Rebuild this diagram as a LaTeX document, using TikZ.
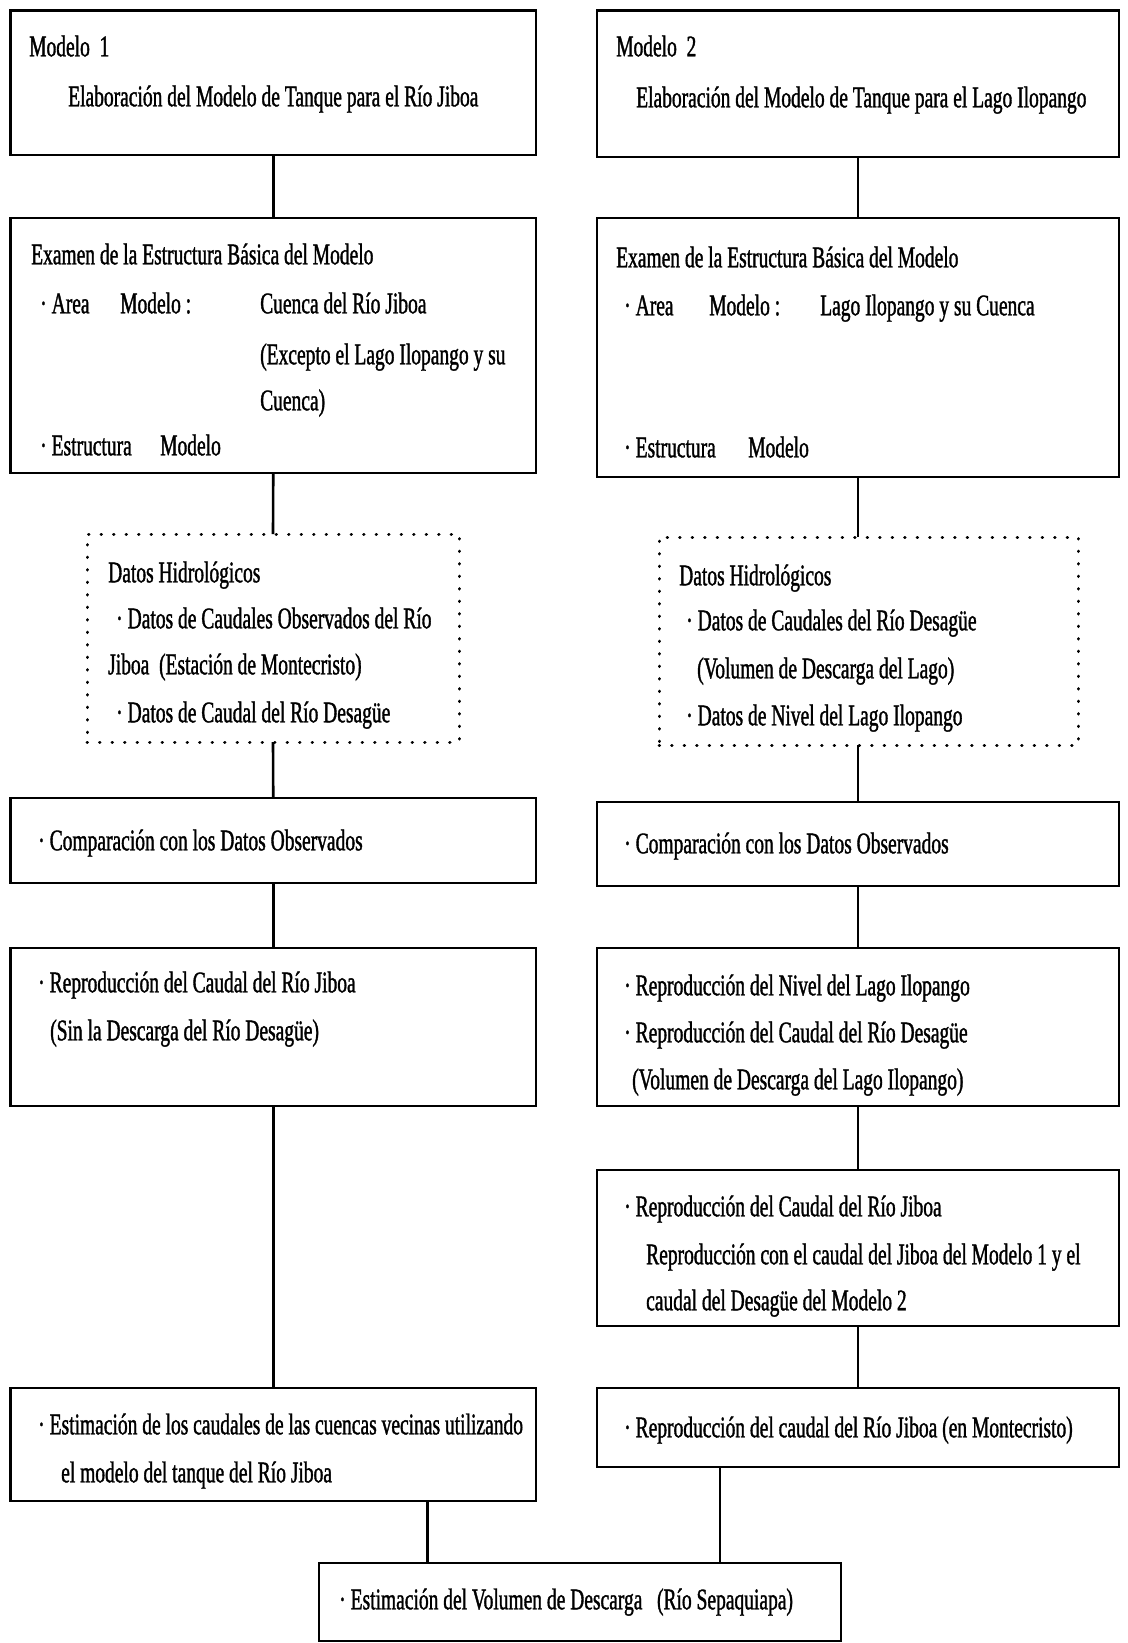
\documentclass[tikz,border=0pt]{standalone}
\usepackage{fontspec}
\setmainfont{Liberation Serif}[FakeStretch=0.65,FakeBold=1.2]
\newcommand{\bul}{·\hspace{5pt}}
\begin{document}
\begin{tikzpicture}[x=1pt,y=-1pt,
  box/.style={draw, line width=2.2pt, anchor=north west, inner sep=0pt, outer sep=0pt},
  dotbox/.style={draw, line width=3pt, dash pattern=on 0.5pt off 12pt, line cap=round, anchor=north west, inner sep=0pt, outer sep=0pt},
  link/.style={line width=2.6pt},
  txt/.style={anchor=mid west, inner sep=0pt, font=\fontsize{30}{36}\selectfont, yshift=-8pt}]
\useasboundingbox (0,0) rectangle (1127,1643);
% left column boxes
\node[box, minimum width=525.5pt, minimum height=144.5pt] (L1) at (10.5,10.5) {};
\node[box, minimum width=525.5pt, minimum height=255pt] (L2) at (10.5,218) {};
\node[dotbox, minimum width=372pt, minimum height=208pt] (L3) at (87,534) {};
\node[box, minimum width=525.5pt, minimum height=85pt] (L4) at (10.5,798) {};
\node[box, minimum width=525.5pt, minimum height=158pt] (L5) at (10.5,948) {};
\node[box, minimum width=525.5pt, minimum height=113pt] (L6) at (10.5,1388) {};
% right column boxes
\node[box, minimum width=522pt, minimum height=146.5pt] (R1) at (597,10.5) {};
\node[box, minimum width=522pt, minimum height=259pt] (R2) at (597,218) {};
\node[dotbox, minimum width=419pt, minimum height=208pt] (R3) at (659,537) {};
\node[box, minimum width=522pt, minimum height=84pt] (R4) at (597,802) {};
\node[box, minimum width=522pt, minimum height=158pt] (R5) at (597,948) {};
\node[box, minimum width=522pt, minimum height=156pt] (R6) at (597,1170) {};
\node[box, minimum width=522pt, minimum height=79pt] (R7) at (597,1388) {};
% bottom box
\node[box, minimum width=522pt, minimum height=78pt] (B) at (319,1563) {};

% connectors left
\draw[link] (L1.south) -- (L2.north);
\draw[link] (L2.south) -- (L3.north);
\draw[link] (L3.south) -- (L4.north);
\draw[link] (L4.south) -- (L5.north);
\draw[link] (L5.south) -- (L6.north);
\draw[link] ([xshift=154pt]L6.south) -- ([xshift=154pt]L6.south |- B.north);
% connectors right
\draw[link] (R1.south) -- (R2.north);
\draw[link] (R2.south) -- (R2.south |- R3.north);
\draw[link] (R2.south |- R3.south) -- (R4.north);
\draw[link] (R4.south) -- (R5.north);
\draw[link] (R5.south) -- (R6.north);
\draw[link] (R6.south) -- (R7.north);
\draw[link] ([xshift=-138pt]R7.south) -- ([xshift=-138pt]R7.south |- B.north);

% texts left
\node[txt] (t1) at (29,46) {Modelo\ \ 1};
\node[txt] (t2) at (68,96) {Elaboración del Modelo de Tanque para el Río Jiboa};
\node[txt] (t3) at (31,254) {Examen de la Estructura Básica del Modelo};
\node[txt] (t4) at (40,303) {\bul Area};
\node[txt] (t5) at (120,303) {Modelo :};
\node[txt] (t6) at (260,303) {Cuenca del Río Jiboa};
\node[txt] (t7) at (260,354) {(Excepto el Lago Ilopango y su};
\node[txt] (t8) at (260,400) {Cuenca)};
\node[txt] (t9) at (40,445) {\bul Estructura};
\node[txt] (t10) at (160,445) {Modelo};
\node[txt] (t11) at (108,572) {Datos Hidrológicos};
\node[txt] (t12) at (116,618) {\bul Datos de Caudales Observados del Río};
\node[txt] (t13) at (108,664) {Jiboa\ \ (Estación de Montecristo)};
\node[txt] (t14) at (116,712) {\bul Datos de Caudal del Río Desagüe};
\node[txt] (t15) at (38,840) {\bul Comparación con los Datos Observados};
\node[txt] (t16) at (38,982) {\bul Reproducción del Caudal del Río Jiboa};
\node[txt] (t17) at (50,1030) {(Sin la Descarga del Río Desagüe)};
\node[txt] (t18) at (38,1424) {\bul Estimación de los caudales de las cuencas vecinas utilizando};
\node[txt] (t19) at (61,1472) {el modelo del tanque del Río Jiboa};
% texts right
\node[txt] (u1) at (616,46) {Modelo\ \ 2};
\node[txt] (u2) at (636,97) {Elaboración del Modelo de Tanque para el Lago Ilopango};
\node[txt] (u3) at (616,257) {Examen de la Estructura Básica del Modelo};
\node[txt] (u4) at (624,305) {\bul Area};
\node[txt] (u5) at (709,305) {Modelo :};
\node[txt] (u6) at (820,305) {Lago Ilopango y su Cuenca};
\node[txt] (u7) at (624,447) {\bul Estructura};
\node[txt] (u8) at (748,447) {Modelo};
\node[txt] (u9) at (679,575) {Datos Hidrológicos};
\node[txt] (u10) at (686,620) {\bul Datos de Caudales del Río Desagüe};
\node[txt] (u11) at (697,668) {(Volumen de Descarga del Lago)};
\node[txt] (u12) at (686,715) {\bul Datos de Nivel del Lago Ilopango};
\node[txt] (u13) at (624,843) {\bul Comparación con los Datos Observados};
\node[txt] (u14) at (624,985) {\bul Reproducción del Nivel del Lago Ilopango};
\node[txt] (u15) at (624,1032) {\bul Reproducción del Caudal del Río Desagüe};
\node[txt] (u16) at (632,1079) {(Volumen de Descarga del Lago Ilopango)};
\node[txt] (u17) at (624,1206) {\bul Reproducción del Caudal del Río Jiboa};
\node[txt] (u18) at (646,1254) {Reproducción con el caudal del Jiboa del Modelo 1 y el};
\node[txt] (u19) at (646,1300) {caudal del Desagüe del Modelo 2};
\node[txt] (u20) at (624,1427) {\bul Reproducción del caudal del Río Jiboa (en Montecristo)};
% bottom text
\node[txt] (w1) at (339,1599) {\bul Estimación del Volumen de Descarga\ \ \ (Río Sepaquiapa)};
\end{tikzpicture}
\end{document}
